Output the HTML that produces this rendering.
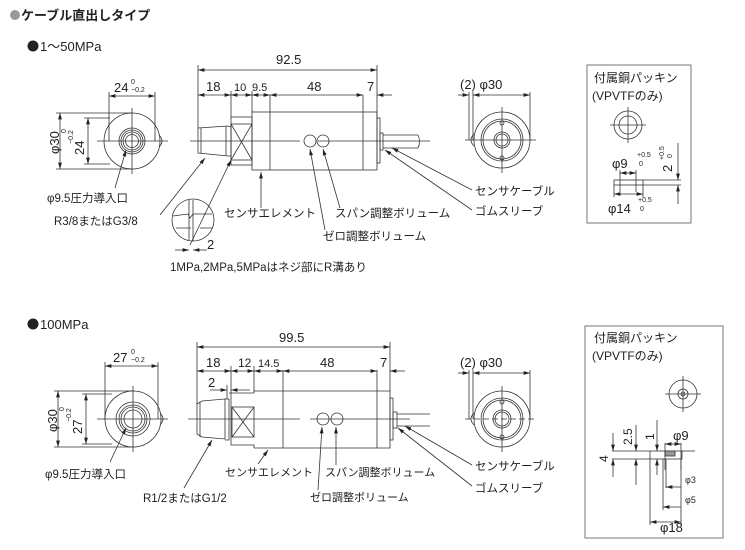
<!DOCTYPE html>
<html><head><meta charset="utf-8"><style>
html,body{margin:0;padding:0;background:#fff;}
svg{display:block;}
text{font-family:"Liberation Sans","Noto Sans CJK JP",sans-serif;fill:#222;}
</style></head><body>
<svg width="745" height="550" viewBox="0 0 745 550" xmlns="http://www.w3.org/2000/svg">
<defs>
<marker id="a" viewBox="0 0 10 6" refX="10" refY="3" markerWidth="8" markerHeight="5" orient="auto-start-reverse"><path d="M0,0L10,3L0,6z" fill="#222"/></marker>
</defs>
<g stroke="#333" stroke-width="0.8" fill="none">

<!-- ===== TOP ===== -->
<circle cx="132" cy="141" r="28"/>
<circle cx="132" cy="141" r="13"/><circle cx="132" cy="141" r="11"/><circle cx="132" cy="141" r="9"/><circle cx="132" cy="141" r="6.5"/>
<path d="M159,135 q6,6 0,12"/>
<line x1="97" y1="141" x2="168" y2="141"/><line x1="132" y1="108" x2="132" y2="174"/>
<line x1="109" y1="92" x2="109" y2="141"/><line x1="155" y1="92" x2="155" y2="141"/>
<line x1="109" y1="96" x2="155" y2="96" marker-start="url(#a)" marker-end="url(#a)"/>
<line x1="56" y1="113" x2="132" y2="113"/><line x1="56" y1="169" x2="132" y2="169"/>
<line x1="60" y1="113" x2="60" y2="169" marker-start="url(#a)" marker-end="url(#a)"/>
<line x1="84" y1="118" x2="110" y2="118"/><line x1="84" y1="164" x2="110" y2="164"/>
<line x1="88" y1="118" x2="88" y2="164" marker-start="url(#a)" marker-end="url(#a)"/>
<line x1="115" y1="188" x2="126" y2="150" marker-end="url(#a)"/>

<path d="M198,128 L228,126 L231,127 L231,156 L228,156 L198,153 Z"/>
<line x1="201" y1="128" x2="201" y2="153"/><line x1="226" y1="126" x2="226" y2="156"/>
<rect x="231" y="117" width="21" height="48"/>
<rect x="231" y="124" width="21" height="36"/>
<line x1="231" y1="124" x2="252" y2="160"/><line x1="252" y1="124" x2="231" y2="160"/>
<rect x="252" y="112" width="125" height="58"/>
<line x1="270" y1="95" x2="270" y2="170"/><line x1="363" y1="95" x2="363" y2="170"/>
<rect x="377" y="118" width="3" height="45"/>
<rect x="380" y="133" width="3" height="17"/>
<path d="M383,135 L418,135 M383,148 L418,148"/><path d="M418,135 q3,6.5 0,13"/>
<line x1="190" y1="141" x2="300" y2="141"/><line x1="318" y1="141" x2="430" y2="141"/>
<circle cx="310" cy="141" r="6"/><circle cx="323" cy="141" r="6"/>
<line x1="198" y1="65" x2="198" y2="128"/><line x1="377" y1="65" x2="377" y2="118"/>
<line x1="231" y1="91" x2="231" y2="117"/><line x1="252" y1="91" x2="252" y2="112"/>
<line x1="198" y1="70" x2="377" y2="70" marker-start="url(#a)" marker-end="url(#a)"/>
<line x1="198" y1="95" x2="231" y2="95" marker-start="url(#a)" marker-end="url(#a)"/>
<line x1="231" y1="95" x2="252" y2="95" marker-start="url(#a)" marker-end="url(#a)"/>
<line x1="252" y1="95" x2="270" y2="95" marker-start="url(#a)" marker-end="url(#a)"/>
<line x1="270" y1="95" x2="363" y2="95" marker-start="url(#a)" marker-end="url(#a)"/>
<line x1="392" y1="95" x2="377" y2="95" marker-end="url(#a)"/>
<line x1="160" y1="215" x2="205" y2="158" marker-end="url(#a)"/>
<line x1="190" y1="245" x2="231" y2="160" marker-end="url(#a)"/>
<line x1="261" y1="208" x2="261" y2="172" marker-end="url(#a)"/>
<line x1="325" y1="230" x2="310" y2="149" marker-end="url(#a)"/>
<line x1="340" y1="208" x2="323" y2="149" marker-end="url(#a)"/>
<line x1="472" y1="190" x2="392" y2="148" marker-end="url(#a)"/>
<line x1="472" y1="210" x2="385" y2="150" marker-end="url(#a)"/>
<circle cx="193" cy="220" r="21"/>
<path d="M173,216 L188,214 L190,218 L193,214 L212,214 M189,200 L189,241 M193,200 L193,241 M176,228 L191,228 M200,228 L212,228"/>
<line x1="175" y1="250" x2="189" y2="250" marker-end="url(#a)"/>
<line x1="207" y1="250" x2="193" y2="250" marker-end="url(#a)"/>
<circle cx="502" cy="140" r="28"/><circle cx="502" cy="140" r="21"/><circle cx="502" cy="140" r="19"/>
<circle cx="502" cy="140" r="8"/><circle cx="502" cy="140" r="6"/>
<circle cx="502" cy="123" r="2"/><circle cx="502" cy="158" r="2"/>
<path d="M474,134 q-6,6 0,12"/>
<line x1="465" y1="140" x2="536" y2="140"/><line x1="502" y1="107" x2="502" y2="173"/>
<line x1="469" y1="92" x2="469" y2="140"/><line x1="473" y1="92" x2="473" y2="140"/><line x1="530" y1="92" x2="530" y2="140"/>
<line x1="458" y1="95" x2="469" y2="95" marker-end="url(#a)"/>
<line x1="473" y1="95" x2="530" y2="95" marker-start="url(#a)" marker-end="url(#a)"/>
<rect x="587" y="65" width="104" height="158" stroke="#555"/>
<circle cx="628" cy="125" r="14"/><circle cx="628" cy="125" r="9"/>
<line x1="610" y1="125" x2="646" y2="125"/><line x1="628" y1="107" x2="628" y2="143"/>
<rect x="614" y="180" width="29" height="5"/><line x1="643" y1="180" x2="681" y2="180"/><line x1="643" y1="185" x2="681" y2="185"/>
<line x1="620" y1="170" x2="620" y2="192"/><line x1="636" y1="170" x2="636" y2="192"/><line x1="614" y1="185" x2="614" y2="197"/><line x1="643" y1="185" x2="643" y2="197"/>
<line x1="620" y1="173" x2="636" y2="173" marker-start="url(#a)" marker-end="url(#a)"/>
<line x1="614" y1="194" x2="643" y2="194" marker-start="url(#a)" marker-end="url(#a)"/>
<line x1="678" y1="143" x2="678" y2="180" marker-end="url(#a)"/>
<line x1="678" y1="204" x2="678" y2="185" marker-end="url(#a)"/>

<!-- ===== BOTTOM ===== -->
<circle cx="133" cy="419" r="28"/>
<circle cx="133" cy="419" r="17"/><circle cx="133" cy="419" r="14"/><circle cx="133" cy="419" r="12"/><circle cx="133" cy="419" r="9"/>
<path d="M160,413 q6,6 0,12"/>
<line x1="97" y1="419" x2="168" y2="419"/><line x1="133" y1="386" x2="133" y2="452"/>
<line x1="105" y1="362" x2="105" y2="419"/><line x1="158" y1="362" x2="158" y2="419"/>
<line x1="105" y1="366" x2="158" y2="366" marker-start="url(#a)" marker-end="url(#a)"/>
<line x1="54" y1="391" x2="133" y2="391"/><line x1="54" y1="447" x2="133" y2="447"/>
<line x1="58" y1="391" x2="58" y2="447" marker-start="url(#a)" marker-end="url(#a)"/>
<line x1="82" y1="394" x2="112" y2="394"/><line x1="82" y1="444" x2="112" y2="444"/>
<line x1="86" y1="394" x2="86" y2="444" marker-start="url(#a)" marker-end="url(#a)"/>
<line x1="110" y1="462" x2="126" y2="428" marker-end="url(#a)"/>

<path d="M197,404 L202,401 L225,399 L225,439 L202,437 L197,434 Z"/>
<line x1="200" y1="402" x2="200" y2="437"/>
<path d="M225,399 L229,399 L229,440 L225,440"/>
<path d="M229,393 L254,393 L254,390"/>
<path d="M231,393 L231,445 L254,445 L254,448"/>
<rect x="232" y="407" width="22" height="30"/>
<line x1="232" y1="407" x2="254" y2="437"/><line x1="254" y1="407" x2="232" y2="437"/>
<path d="M254,391 L390,391 L390,448 L254,448"/>
<line x1="283" y1="370" x2="283" y2="448"/><line x1="377" y1="370" x2="377" y2="448"/>
<rect x="390" y="398" width="3" height="42"/>
<rect x="393" y="412" width="4" height="16"/>
<path d="M397,414 L430,414 M397,426 L430,426"/>
<line x1="188" y1="419" x2="300" y2="419"/><line x1="310" y1="419" x2="410" y2="419"/>
<circle cx="323" cy="419" r="6"/><circle cx="337" cy="419" r="6"/>
<line x1="197" y1="342" x2="197" y2="404"/><line x1="390" y1="342" x2="390" y2="391"/>
<line x1="231" y1="366" x2="231" y2="393"/><line x1="254" y1="366" x2="254" y2="391"/>
<line x1="227" y1="385" x2="227" y2="399"/>
<line x1="197" y1="347" x2="390" y2="347" marker-start="url(#a)" marker-end="url(#a)"/>
<line x1="197" y1="371" x2="231" y2="371" marker-start="url(#a)" marker-end="url(#a)"/>
<line x1="231" y1="371" x2="254" y2="371" marker-start="url(#a)" marker-end="url(#a)"/>
<line x1="254" y1="371" x2="283" y2="371" marker-start="url(#a)" marker-end="url(#a)"/>
<line x1="283" y1="371" x2="377" y2="371" marker-start="url(#a)" marker-end="url(#a)"/>
<line x1="405" y1="371" x2="390" y2="371" marker-end="url(#a)"/>
<line x1="210" y1="390" x2="227" y2="390" marker-end="url(#a)"/>
<line x1="250" y1="390" x2="231" y2="390" marker-end="url(#a)"/>
<line x1="184" y1="488" x2="212" y2="440" marker-end="url(#a)"/>
<line x1="258" y1="464" x2="268" y2="450" marker-end="url(#a)"/>
<line x1="318" y1="490" x2="322" y2="427" marker-end="url(#a)"/>
<line x1="336" y1="465" x2="336" y2="427" marker-end="url(#a)"/>
<line x1="472" y1="465" x2="405" y2="426" marker-end="url(#a)"/>
<line x1="472" y1="486" x2="398" y2="428" marker-end="url(#a)"/>

<circle cx="502" cy="419" r="28"/><circle cx="502" cy="419" r="21"/><circle cx="502" cy="419" r="19"/>
<circle cx="502" cy="419" r="9"/><circle cx="502" cy="419" r="7"/>
<circle cx="502" cy="402" r="2"/><circle cx="502" cy="437" r="2"/>
<path d="M474,413 q-6,6 0,12"/>
<line x1="465" y1="419" x2="536" y2="419" stroke-dasharray="6,3"/><line x1="502" y1="386" x2="502" y2="452"/>
<line x1="469" y1="370" x2="469" y2="419"/><line x1="473" y1="370" x2="473" y2="419"/><line x1="530" y1="370" x2="530" y2="419"/>
<line x1="458" y1="373" x2="469" y2="373" marker-end="url(#a)"/>
<line x1="473" y1="373" x2="530" y2="373" marker-start="url(#a)" marker-end="url(#a)"/>
<rect x="585" y="326" width="138" height="212" stroke="#555"/>
<circle cx="683" cy="394" r="14"/><circle cx="683" cy="394" r="5"/><circle cx="683" cy="394" r="2"/>
<line x1="665" y1="394" x2="701" y2="394"/><line x1="683" y1="376" x2="683" y2="412"/>
<line x1="612" y1="451" x2="650" y2="451"/><line x1="612" y1="459" x2="650" y2="459"/>
<rect x="650" y="451" width="32" height="8"/><rect x="665" y="451" width="10" height="5" fill="#999"/>
<line x1="682" y1="451" x2="695" y2="451"/>
<line x1="681" y1="443" x2="681" y2="470"/><line x1="665" y1="443" x2="665" y2="470"/>
<line x1="666" y1="459" x2="666" y2="488"/><line x1="663" y1="459" x2="663" y2="510"/>
<line x1="650" y1="459" x2="650" y2="525"/><line x1="681" y1="459" x2="681" y2="525"/>
<line x1="665" y1="444" x2="681" y2="444" marker-start="url(#a)" marker-end="url(#a)"/>
<line x1="681" y1="487" x2="666" y2="487" marker-end="url(#a)"/>
<line x1="681" y1="507" x2="663" y2="507" marker-end="url(#a)"/>
<line x1="650" y1="522" x2="681" y2="522" marker-start="url(#a)" marker-end="url(#a)"/>
<line x1="613" y1="433" x2="613" y2="451" marker-end="url(#a)"/>
<line x1="613" y1="477" x2="613" y2="459" marker-end="url(#a)"/>
<line x1="636" y1="425" x2="636" y2="451" marker-end="url(#a)"/>
<line x1="636" y1="485" x2="636" y2="459" marker-end="url(#a)"/>
<line x1="657" y1="420" x2="657" y2="451" marker-end="url(#a)"/>
<line x1="657" y1="475" x2="657" y2="459" marker-end="url(#a)"/>
</g>

<!-- TEXT -->
<circle cx="15" cy="15" r="5" fill="#999"/>
<text x="21" y="20" font-size="13" font-weight="bold">ケーブル直出しタイプ</text>
<circle cx="33" cy="46" r="5.5" fill="#222"/>
<text x="40" y="51" font-size="13">1～50MPa</text>
<text x="114" y="92" font-size="13">24</text><text x="131" y="84" font-size="7">0</text><text x="131" y="92" font-size="7">−0.2</text>
<text transform="translate(59,154) rotate(-90)" font-size="13">φ30</text>
<text transform="translate(84,155) rotate(-90)" font-size="13">24</text>
<text transform="translate(73,144) rotate(-90)" font-size="7">−0.2</text>
<text transform="translate(66,133) rotate(-90)" font-size="7">0</text>
<text x="47" y="202" font-size="11.5">φ9.5圧力導入口</text>
<text x="54" y="225" font-size="11.5">R3/8またはG3/8</text>
<text x="276" y="64" font-size="13">92.5</text>
<text x="206" y="91" font-size="13">18</text>
<text x="234" y="91" font-size="11">10</text>
<text x="252" y="91" font-size="11">9.5</text>
<text x="307" y="91" font-size="13">48</text>
<text x="367" y="91" font-size="13">7</text>
<text x="207" y="249" font-size="13">2</text>
<text x="224" y="217" font-size="11.5">センサエレメント</text>
<text x="335" y="217" font-size="11.5">スパン調整ボリューム</text>
<text x="323" y="240" font-size="11.5">ゼロ調整ボリューム</text>
<text x="170" y="271" font-size="11.5">1MPa,2MPa,5MPaはネジ部にR溝あり</text>
<text x="475" y="195" font-size="11.5">センサケーブル</text>
<text x="475" y="215" font-size="11.5">ゴムスリーブ</text>
<text x="460" y="89" font-size="13">(2)  φ30</text>
<text x="594" y="82" font-size="12">付属銅パッキン</text>
<text x="592" y="100" font-size="12">(VPVTFのみ)</text>
<text x="612" y="168" font-size="13">φ9</text><text x="637" y="157" font-size="7">+0.5</text><text x="639" y="166" font-size="7">0</text>
<text x="608" y="213" font-size="13">φ14</text><text x="638" y="202" font-size="7">+0.5</text><text x="640" y="211" font-size="7">0</text>
<text transform="translate(672,172) rotate(-90)" font-size="13">2</text>
<text transform="translate(664,160) rotate(-90)" font-size="7">+0.5</text>
<text transform="translate(672,158) rotate(-90)" font-size="7">0</text>

<circle cx="33" cy="324" r="5.5" fill="#222"/>
<text x="40" y="329" font-size="13">100MPa</text>
<text x="113" y="362" font-size="13">27</text><text x="131" y="354" font-size="7">0</text><text x="131" y="362" font-size="7">−0.2</text>
<text transform="translate(57,432) rotate(-90)" font-size="13">φ30</text>
<text transform="translate(82,434) rotate(-90)" font-size="13">27</text>
<text transform="translate(71,422) rotate(-90)" font-size="7">−0.2</text>
<text transform="translate(64,411) rotate(-90)" font-size="7">0</text>
<text x="45" y="478" font-size="11.5">φ9.5圧力導入口</text>
<text x="143" y="502" font-size="11.5">R1/2またはG1/2</text>
<text x="279" y="342" font-size="13">99.5</text>
<text x="206" y="367" font-size="13">18</text>
<text x="238" y="367" font-size="12">12</text>
<text x="258" y="367" font-size="11">14.5</text>
<text x="320" y="367" font-size="13">48</text>
<text x="380" y="367" font-size="13">7</text>
<text x="208" y="387" font-size="13">2</text>
<text x="225" y="476" font-size="11">センサエレメント</text>
<text x="325" y="476" font-size="11">スパン調整ボリューム</text>
<text x="310" y="501" font-size="11">ゼロ調整ボリューム</text>
<text x="475" y="470" font-size="11.5">センサケーブル</text>
<text x="475" y="492" font-size="11.5">ゴムスリーブ</text>
<text x="460" y="367" font-size="13">(2)  φ30</text>
<text x="594" y="342" font-size="12">付属銅パッキン</text>
<text x="592" y="360" font-size="12">(VPVTFのみ)</text>
<text x="673" y="440" font-size="13">φ9</text>
<text x="660" y="532" font-size="13">φ18</text>
<text x="685" y="483" font-size="9">φ3</text>
<text x="685" y="503" font-size="9">φ5</text>
<text transform="translate(608,462) rotate(-90)" font-size="12">4</text>
<text transform="translate(632,445) rotate(-90)" font-size="12">2.5</text>
<text transform="translate(654,440) rotate(-90)" font-size="12">1</text>
</svg>
</body></html>
